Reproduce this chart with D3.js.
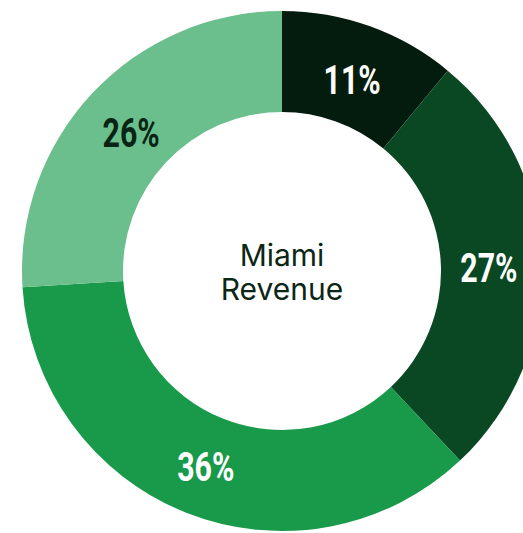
<!DOCTYPE html>
<meta charset="utf-8">
<style>
  body { margin: 0; background: #fff; }
  .pct { font-family: Roboto, "Liberation Sans", sans-serif; font-weight: bold; }
  .center { font-family: Inter, "Noto Sans", sans-serif; fill: #0c2616; }
</style>
<body>
<script src="https://d3js.org/d3.v7.min.js"></script>
<script>
var width = 523,
    height = 533;

// data
var segments = ["A", "B", "C", "D"];
var shares = [11, 27, 36, 26];
var colors = ["#041c0e", "#0a4824", "#189a4a", "#6bbf8c"];
var labelColors = ["#ffffff", "#ffffff", "#ffffff", "#072414"];
var centerLines = ["Miami", "Revenue"];

var cx = 282, cy = 271,
    outerR = 260, innerR = 159, labelR = 207;

var svg = d3.select("body").append("svg")
    .attr("width", width)
    .attr("height", height);

var g = svg.append("g").attr("transform", "translate(" + cx + "," + cy + ")");

var pie = d3.pie().sort(null).value(function(d) { return d; });
var arcs = pie(shares);

var arc = d3.arc().innerRadius(innerR).outerRadius(outerR);
var labelArc = d3.arc().innerRadius(labelR).outerRadius(labelR);

g.selectAll("path.slice")
    .data(arcs)
  .enter().append("path")
    .attr("class", "slice")
    .attr("d", arc)
    .attr("fill", function(d, i) { return colors[i]; });

// condensed look: squeeze Roboto bold horizontally
g.selectAll("text.pct")
    .data(arcs)
  .enter().append("text")
    .attr("class", "pct")
    .attr("transform", function(d) {
      var c = labelArc.centroid(d);
      return "translate(" + c[0] + "," + (c[1] + 3) + ") scale(0.74,1)";
    })
    .attr("text-anchor", "middle")
    .attr("dy", "0.36em")
    .attr("font-size", 41)
    .attr("fill", function(d, i) { return labelColors[i]; })
    .text(function(d) { return d.data + "%"; });

var ct = g.append("text")
    .attr("class", "center")
    .attr("text-anchor", "middle")
    .attr("font-size", 30);
ct.selectAll("tspan")
    .data(centerLines)
  .enter().append("tspan")
    .attr("x", 0)
    .attr("y", function(d, i) { return -5 + i * 34; })
    .text(function(d) { return d; });
</script>
</body>
